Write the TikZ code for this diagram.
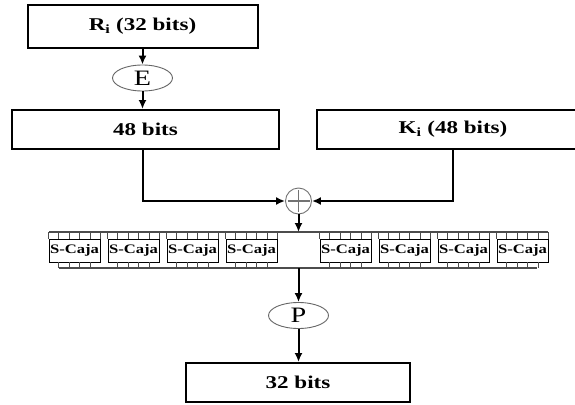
\documentclass[tikz,border=0pt]{standalone}
\usepackage{fontspec}
\setmainfont[FakeStretch=1.28]{Liberation Serif}
\usetikzlibrary{shapes.geometric,arrows.meta,positioning,calc}
\tikzset{
    block/.style={
        rectangle,
        draw=black,
        line width=2pt,
        inner sep=0pt,
        text centered,
        font=\fontsize{18}{20}\selectfont\bfseries
    },
    perm/.style={ellipse, draw=black!60, line width=0.9pt, inner sep=0pt,
        minimum width=60pt, minimum height=26pt, font=\fontsize{22}{24}\selectfont},
    xorsym/.style={circle, draw=black!55, line width=0.9pt, minimum size=26pt, inner sep=0pt,
        path picture={
            \draw[line width=1.8pt] ([yshift=-2pt]path picture bounding box.north) -- ([yshift=2pt]path picture bounding box.south);
            \draw[line width=1.8pt] ([xshift=2pt]path picture bounding box.west) -- ([xshift=-2pt]path picture bounding box.east);
        }},
    sbox/.style={rectangle, draw=black, line width=0.9pt, minimum width=51pt, minimum height=23pt,
        inner sep=0pt, font=\fontsize{13}{14}\selectfont\bfseries},
    bus/.style={draw=black!70, line width=1.1pt},
    arrow/.style={-{Latex[length=9pt,width=8pt]}, line width=2pt}
}

\begin{document}
\begin{tikzpicture}[x=1pt,y=-1pt]
    \fill[white] (0,0) rectangle (575,404);
    \clip (0,0) rectangle (575,404);

    % Input half and expansion
    \node[block, minimum width=230pt, minimum height=43pt] (ri) at (142.5,26.5) {R\textsubscript{i} (32 bits)};
    \node[perm] (e) at (142.5,78) {E};
    \node[block, minimum width=267pt, minimum height=39pt] (b48) at (145.5,129.5) {48 bits};

    % Round key
    \node[block, minimum width=272pt, minimum height=39pt] (ki) at (453,129.5) {K\textsubscript{i} (48 bits)};

    % XOR
    \node[xorsym] (xor) at (298.5,201) {};

    % S-boxes
    \coordinate (topl) at (49,232);
    \coordinate (topr) at (548,232);
    \coordinate (botl) at (59,268);
    \coordinate (botr) at (537,268);
    \draw[bus] (topl) -- (topr);
    \draw[bus] (botl) -- (botr);
    \foreach \sx [count=\k] in {74.5,133.5,192.5,251.5,345.5,404.5,463.5,522.5} {
        \node[sbox] (s\k) at (\sx,250.5) {S-Caja};
        \foreach \f in {0,0.2,0.4,0.6,0.8,1}
            \draw[bus] ($(s\k.north west)!\f!(s\k.north east)$) -- ++(0,-7);
        \foreach \f in {0.2,0.4,0.6,0.8}
            \draw[bus] ($(s\k.south west)!\f!(s\k.south east)$) -- ++(0,6);
    }

    % Permutation and output
    \node[perm] (p) at (298.5,315.5) {P};
    \node[block, minimum width=224pt, minimum height=39pt] (out) at (298,382.5) {32 bits};

    % Arrows
    \draw[arrow] (ri) -- (e);
    \draw[arrow] (e) -- (e |- b48.north);
    \draw[arrow] (b48.south -| e) |- (xor.west);
    \draw[arrow] (ki.south) |- (xor.east);
    \draw[arrow] (xor) -- (xor |- topl);
    \draw[arrow] (xor |- botl) -- (p);
    \draw[arrow] (p) -- (p |- out.north);
\end{tikzpicture}
\end{document}
